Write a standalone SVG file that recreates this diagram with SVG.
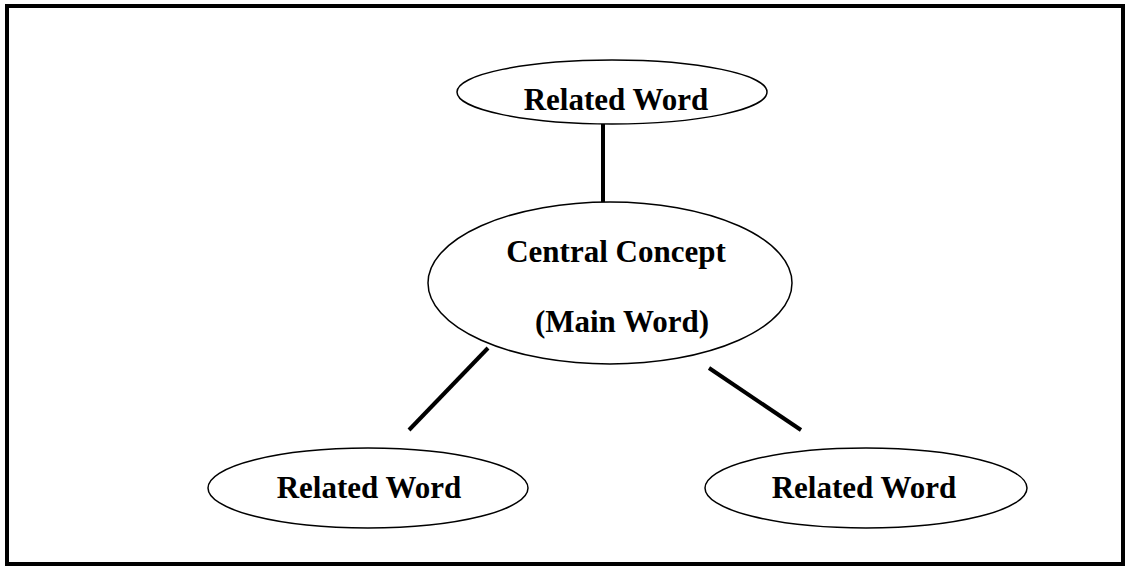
<svg xmlns="http://www.w3.org/2000/svg" width="1126" height="567" viewBox="0 0 1126 567">
<style>
.node ellipse{fill:#fff;stroke:#000;stroke-width:1.5}
.lbl{font-family:"Liberation Serif","Times New Roman",serif;font-weight:bold;font-size:31px;fill:#000}
.conn line{stroke:#000;stroke-width:4}
</style>
<rect x="0" y="0" width="1126" height="567" fill="#fff"/>
<rect x="7" y="6" width="1116" height="558" fill="none" stroke="#000" stroke-width="4"/>
<g id="connectors" class="conn">
<line x1="603" y1="124" x2="603" y2="202"/>
<line x1="488" y1="348" x2="409" y2="430"/>
<line x1="709" y1="368" x2="801" y2="430"/>
</g>
<g id="top" class="node">
<ellipse cx="612" cy="92" rx="155" ry="32"/>
<text class="lbl" x="616" y="110" text-anchor="middle">Related Word</text>
</g>
<g id="central" class="node">
<ellipse cx="610" cy="283" rx="182" ry="81"/>
<text class="lbl" x="616" y="262" text-anchor="middle">Central Concept</text>
<text class="lbl" x="622" y="332" text-anchor="middle">(Main Word)</text>
</g>
<g id="left" class="node">
<ellipse cx="368" cy="488" rx="160" ry="40"/>
<text class="lbl" x="369" y="498" text-anchor="middle">Related Word</text>
</g>
<g id="right" class="node">
<ellipse cx="866" cy="488" rx="161" ry="40"/>
<text class="lbl" x="864" y="498" text-anchor="middle">Related Word</text>
</g>
</svg>
